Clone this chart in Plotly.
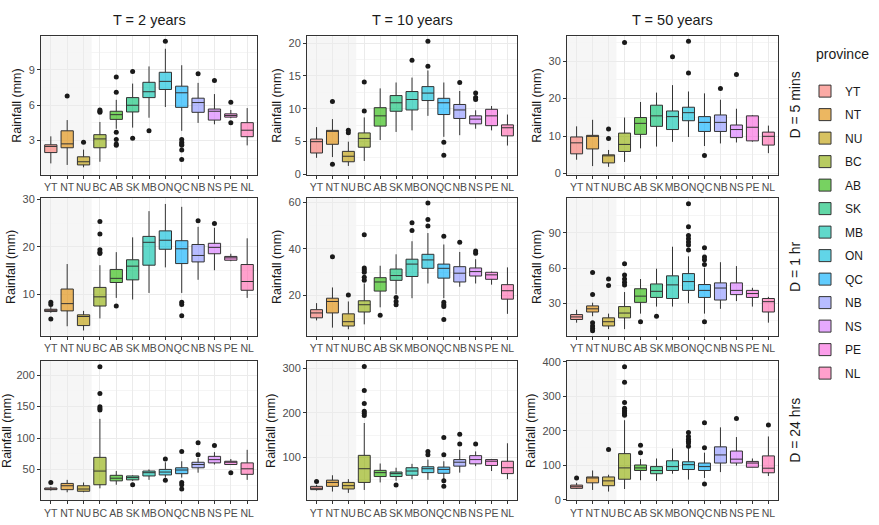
import plotly.graph_objects as go

provinces = ["YT", "NT", "NU", "BC", "AB", "SK", "MB", "ON", "QC", "NB", "NS", "PE", "NL"]
hues = ["#F8766D", "#E18A00", "#BE9C00", "#8CAB00", "#24B700", "#00BE70", "#00C1AB",
        "#00BBDA", "#00ACFC", "#8B93FF", "#D575FE", "#F962DD", "#FF65AC"]
col_titles = ["T = 2 years", "T = 10 years", "T = 50 years"]
row_titles = ["D = 5 mins", "D = 1 hr", "D = 24 hrs"]
territories = ["YT", "NT", "NU"]

# ---- T = 2 years, D = 5 mins
t2_d5_lo = [1.06, 0.93, 0.73, 1.2, 4.0, 4.1, 4.94, 5.85, 3.83, 4.5, 4.38, 4.9, 2.59]
t2_d5_q1 = [1.98, 2.39, 0.93, 2.39, 4.8, 5.43, 6.65, 7.34, 5.82, 5.4, 4.74, 4.99, 3.33]
t2_d5_med = [2.5, 2.72, 1.2, 3.14, 5.2, 6.0, 7.15, 8.03, 7.06, 6.23, 5.49, 5.13, 3.88]
t2_d5_q3 = [2.64, 3.83, 1.62, 3.5, 5.49, 6.65, 7.95, 8.8, 7.62, 6.6, 5.68, 5.27, 4.52]
t2_d5_hi = [3.36, 4.74, 2.23, 4.58, 6.46, 7.84, 9.3, 10.8, 9.4, 7.9, 6.95, 5.6, 5.76]
t2_d5_out = [[], [6.79], [2.86], [5.4, 5.5, 5.6], [8.4, 7.1, 3.7, 3.1, 2.7, 2.6], [8.86, 3.19],
             [3.83], [11.43], [3.1, 2.85, 2.7, 2.6, 2.2, 1.4], [8.67], [8.1], [6.26, 4.52], []]

# ---- T = 10 years, D = 5 mins
t10_d5_lo = [2.48, 2.6, 1.24, 2.0, 5.2, 6.44, 6.68, 8.9, 5.69, 5.94, 6.93, 6.68, 4.36]
t10_d5_q1 = [3.22, 4.55, 1.88, 4.1, 7.33, 9.6, 9.8, 11.24, 9.1, 8.5, 7.67, 7.4, 5.84]
t10_d5_med = [4.95, 6.58, 2.72, 5.45, 8.9, 10.9, 11.4, 12.38, 10.9, 9.8, 8.4, 8.9, 7.08]
t10_d5_q3 = [5.35, 6.68, 3.47, 6.29, 10.15, 12.0, 12.62, 13.37, 11.58, 10.64, 8.9, 9.9, 7.52]
t10_d5_hi = [7.18, 8.4, 4.95, 8.66, 13.1, 14.0, 14.75, 15.84, 14.0, 12.7, 9.75, 10.4, 9.1]
t10_d5_out = [[], [11.1, 1.5], [6.7, 6.3], [14.06, 9.65], [], [], [17.4], [20.3, 16.5],
              [4.85, 2.87], [14.0], [12.4, 11.7, 11.4], [], []]

# ---- T = 50 years, D = 5 mins
t50_d5_lo = [3.7, 2.0, 1.8, 3.1, 6.74, 7.2, 8.47, 9.77, 7.35, 8.04, 8.3, 8.5, 5.45]
t50_d5_q1 = [5.27, 6.57, 2.85, 5.9, 10.46, 12.6, 11.75, 14.1, 11.24, 11.24, 9.6, 8.73, 7.6]
t50_d5_med = [8.2, 9.94, 4.84, 7.78, 13.4, 15.4, 15.2, 16.25, 13.66, 13.66, 11.75, 12.36, 9.94]
t50_d5_q3 = [9.77, 10.2, 5.0, 10.8, 14.95, 18.24, 16.7, 17.7, 15.2, 15.64, 12.96, 15.4, 11.06]
t50_d5_hi = [12.6, 14.35, 6.3, 14.95, 19.1, 21.6, 23.6, 21.9, 21.4, 19.7, 17.3, 15.6, 12.8]
t50_d5_out = [[], [], [11.9, 9.33], [35.0], [], [], [31.2], [35.3, 26.8], [4.84], [22.7],
              [26.4], [], []]

# ---- T = 2 years, D = 1 hr
t2_d60_lo = [6.2, 3.36, 2.47, 5.0, 9.3, 8.97, 10.34, 15.7, 10.34, 13.1, 15.1, 17.0, 9.3]
t2_d60_q1 = [6.44, 6.58, 3.5, 7.6, 12.53, 13.08, 16.16, 19.5, 16.5, 16.85, 18.56, 17.2, 10.9]
t2_d60_med = [6.7, 8.1, 5.4, 9.52, 13.4, 15.96, 20.96, 21.4, 19.6, 18.2, 19.9, 17.7, 12.74]
t2_d60_q3 = [6.92, 11.16, 5.75, 11.5, 15.27, 17.3, 22.2, 23.36, 21.3, 20.5, 20.75, 18.0, 16.3]
t2_d60_hi = [7.4, 16.4, 6.58, 16.16, 18.9, 22.0, 27.5, 29.0, 28.4, 24.2, 24.0, 18.56, 21.8]
t2_d60_out = [[8.4, 7.9, 4.86], [], [], [25.3, 22.7, 19.4, 18.9, 18.6], [7.6], [], [], [],
              [8.4, 7.9, 5.55], [25.5], [24.9], [], []]

# ---- T = 10 years, D = 1 hr
t10_d60_lo = [9.4, 6.3, 5.6, 7.7, 15.0, 20.6, 18.9, 25.2, 18.9, 23.8, 25.2, 24.7, 12.2]
t10_d60_q1 = [10.5, 12.6, 7.0, 13.0, 21.95, 26.55, 28.2, 31.7, 27.5, 25.85, 28.4, 27.0, 18.5]
t10_d60_med = [12.6, 17.5, 8.85, 16.1, 25.85, 28.6, 33.5, 35.3, 31.7, 29.6, 30.3, 28.9, 22.1]
t10_d60_q3 = [14.0, 18.9, 12.2, 17.8, 27.7, 31.4, 35.6, 37.7, 33.5, 32.4, 31.85, 30.0, 24.7]
t10_d60_hi = [16.8, 23.5, 17.5, 25.2, 32.8, 37.7, 43.3, 46.8, 41.9, 38.7, 35.6, 30.3, 32.1]
t10_d60_out = [[], [36.7], [20.3], [46.1, 31.8, 31.0, 30.0, 27.9, 26.6], [11.6],
               [19.2, 17.5, 16.1], [51.2, 47.9], [59.7, 52.6, 49.8],
               [45.4, 17.2, 16.1, 15.4, 9.8], [42.9], [39.1, 38.1], [], []]

# ---- T = 50 years, D = 1 hr
t50_d60_lo = [13.5, 19.0, 8.0, 8.0, 21.2, 27.2, 27.2, 30.0, 21.2, 25.3, 31.9, 27.2, 13.5]
t50_d60_q1 = [16.2, 22.6, 10.7, 17.6, 30.8, 35.0, 34.1, 41.0, 35.0, 32.8, 37.4, 35.0, 22.6]
t50_d60_med = [18.4, 25.3, 14.3, 21.7, 36.1, 40.2, 45.7, 48.5, 41.0, 43.0, 41.0, 38.3, 31.4]
t50_d60_q3 = [20.4, 27.8, 17.6, 27.2, 42.4, 46.5, 53.4, 55.3, 46.0, 47.4, 47.4, 41.0, 34.1]
t50_d60_hi = [24.5, 30.5, 21.2, 39.6, 50.7, 59.5, 78.2, 70.0, 60.3, 65.0, 61.7, 43.2, 35.5]
t50_d60_out = [[], [56.2, 37.4, 13.5, 10.7, 8.5, 6.6], [50.7, 45.2], [63.6, 54.2, 50.7, 47.9, 45.7],
               [14.3], [19.0], [], [114.8, 95.3, 87.8, 85.1, 82.3, 79.6, 75.5],
               [77.4, 69.4, 67.2, 63.1, 14.3], [], [], [], []]

# ---- T = 2 years, D = 24 hrs
t2_d1440_lo = [16.2, 13.6, 13.6, 19.9, 25.6, 31.8, 33.4, 37.0, 37.0, 44.8, 57.8, 57.8, 33.4]
t2_d1440_q1 = [17.8, 17.8, 15.2, 25.6, 31.8, 33.4, 39.6, 41.2, 43.2, 52.6, 60.4, 57.8, 42.2]
t2_d1440_med = [18.8, 24.0, 18.8, 47.4, 36.0, 37.0, 44.8, 45.8, 49.0, 57.8, 65.6, 61.4, 51.0]
t2_d1440_q3 = [20.4, 27.7, 24.0, 69.2, 40.6, 39.6, 47.4, 50.0, 52.6, 61.4, 70.8, 63.0, 60.4]
t2_d1440_hi = [22.5, 33.4, 29.2, 130.5, 47.4, 40.6, 50.0, 61.4, 63.0, 68.2, 77.5, 66.6, 81.2]
t2_d1440_out = [[29.2], [], [], [213.6, 171.0, 149.7, 147.1, 144.5], [], [25.6], [], [66.6, 32.9],
                [78.6, 29.2, 25.6, 18.8], [92.6, 73.4], [88.0], [44.8], []]

# ---- T = 10 years, D = 24 hrs
t10_d1440_lo = [25.3, 23.1, 20.1, 26.7, 43.6, 47.3, 50.9, 49.5, 50.9, 65.6, 80.2, 69.2, 50.9]
t10_d1440_q1 = [27.5, 34.8, 28.9, 43.6, 56.8, 56.8, 59.7, 65.6, 64.1, 80.2, 85.3, 81.7, 63.4]
t10_d1440_med = [30.4, 43.6, 36.3, 74.4, 65.6, 63.4, 69.2, 74.4, 72.9, 89.0, 94.9, 91.2, 76.6]
t10_d1440_q3 = [34.8, 48.7, 43.6, 104.4, 70.7, 67.0, 76.6, 78.8, 78.0, 94.9, 103.7, 94.9, 91.2]
t10_d1440_hi = [38.5, 59.7, 50.9, 177.0, 86.1, 76.6, 85.3, 94.9, 91.2, 116.8, 113.2, 96.3, 131.5]
t10_d1440_out = [[45.8], [], [], [303.7, 250.0, 220.9, 203.3, 198.9, 193.8], [], [37.7], [],
                 [113.0, 106.0], [144.7, 105.9, 47.3, 34.8], [152.0, 130.0], [130.0], [], []]

# ---- T = 50 years, D = 24 hrs
t50_d1440_lo = [31.0, 28.2, 23.5, 31.0, 56.4, 54.6, 75.3, 58.3, 63.0, 80.0, 98.8, 94.1, 68.7]
t50_d1440_q1 = [32.9, 48.9, 40.5, 59.3, 84.7, 75.3, 84.7, 87.5, 84.7, 106.3, 106.3, 94.1, 78.1]
t50_d1440_med = [37.6, 63.0, 54.6, 92.2, 92.2, 84.7, 96.0, 101.6, 96.0, 129.8, 117.6, 106.3, 91.3]
t50_d1440_q3 = [42.3, 65.9, 65.9, 133.6, 100.7, 96.0, 112.9, 110.0, 106.3, 153.3, 141.1, 111.0, 127.0]
t50_d1440_hi = [48.9, 84.7, 72.4, 230.5, 117.6, 119.5, 148.6, 150.5, 136.4, 209.8, 181.6, 119.5, 183.4]
t50_d1440_out = [[63.0], [], [145.8], [385.7, 340.5, 282.2, 265.3, 258.7, 254.0, 249.3, 244.6],
                 [158.0, 136.4], [], [], [194.7, 183.4, 175.0, 169.3, 164.6, 155.2],
                 [223.0, 150.5, 45.2], [], [235.2], [], [216.4]]

panels = [
    (t2_d5_lo, t2_d5_q1, t2_d5_med, t2_d5_q3, t2_d5_hi, t2_d5_out),
    (t10_d5_lo, t10_d5_q1, t10_d5_med, t10_d5_q3, t10_d5_hi, t10_d5_out),
    (t50_d5_lo, t50_d5_q1, t50_d5_med, t50_d5_q3, t50_d5_hi, t50_d5_out),
    (t2_d60_lo, t2_d60_q1, t2_d60_med, t2_d60_q3, t2_d60_hi, t2_d60_out),
    (t10_d60_lo, t10_d60_q1, t10_d60_med, t10_d60_q3, t10_d60_hi, t10_d60_out),
    (t50_d60_lo, t50_d60_q1, t50_d60_med, t50_d60_q3, t50_d60_hi, t50_d60_out),
    (t2_d1440_lo, t2_d1440_q1, t2_d1440_med, t2_d1440_q3, t2_d1440_hi, t2_d1440_out),
    (t10_d1440_lo, t10_d1440_q1, t10_d1440_med, t10_d1440_q3, t10_d1440_hi, t10_d1440_out),
    (t50_d1440_lo, t50_d1440_q1, t50_d1440_med, t50_d1440_q3, t50_d1440_hi, t50_d1440_out),
]

y_ticks = [[3, 6, 9], [0, 5, 10, 15, 20], [0, 10, 20, 30],
           [10, 20, 30], [20, 40, 60], [30, 60, 90],
           [50, 100, 150, 200], [100, 200, 300], [0, 100, 200, 300, 400]]
y_ranges = [[0.1, 11.85], [-0.1, 21.05], [-0.3, 36.6],
            [1.4, 30.2], [2.9, 61.7], [2.5, 119.5],
            [0.7, 222.5], [3.3, 316.0], [-2.0, 402.0]]

W, H = 879, 525
col_px = [(41, 257), (307, 517), (567, 778)]
row_px = [(32, 173), (197, 337), (363, 505)]


def rgba(hx, a):
    hx = hx.lstrip("#")
    r, g, b = int(hx[0:2], 16), int(hx[2:4], 16), int(hx[4:6], 16)
    return f"rgba({r},{g},{b},{a})"


FONT = "Liberation Sans, Arial, sans-serif"
fig = go.Figure()
layout = {}
shapes = []
annotations = []

for k, (lo, q1, med, q3, hi, outs) in enumerate(panels):
    r, c = divmod(k, 3)
    s = "" if k == 0 else str(k + 1)
    xa, ya = "x" + s, "y" + s
    for i, p in enumerate(provinces):
        fig.add_trace(go.Box(
            x=[p], lowerfence=[lo[i]], q1=[q1[i]], median=[med[i]], q3=[q3[i]],
            upperfence=[hi[i]], name=p, legendgroup=p, showlegend=(k == 0),
            fillcolor=rgba(hues[i], 0.62), line=dict(color="#333333", width=1),
            whiskerwidth=0, width=0.75, boxpoints=False, xaxis=xa, yaxis=ya,
            hoverinfo="skip"))
    ox, oy = [], []
    for i, p in enumerate(provinces):
        for v in outs[i]:
            ox.append(p)
            oy.append(v)
    fig.add_trace(go.Scatter(x=ox, y=oy, mode="markers", showlegend=False,
                             marker=dict(color="#1a1a1a", size=5),
                             xaxis=xa, yaxis=ya, hoverinfo="skip"))

    x0, x1 = col_px[c]
    y0, y1 = row_px[r]
    ticks = y_ticks[k]
    step = ticks[1] - ticks[0]
    minor_vals = [t - step / 2 for t in ticks] + [ticks[-1] + step / 2]
    layout["xaxis" + s] = dict(
        domain=[x0 / W, x1 / W], anchor=ya, type="category",
        categoryorder="array", categoryarray=provinces, range=[-0.6, 12.6],
        showgrid=True, gridcolor="#EBEBEB", gridwidth=1, zeroline=False,
        ticks="outside", ticklen=3, tickcolor="#333333", showline=True,
        linecolor="#333333", linewidth=1, mirror=True, tickangle=0,
        tickfont=dict(size=10.5, color="#4D4D4D", family=FONT))
    layout["yaxis" + s] = dict(
        domain=[1 - y1 / H, 1 - y0 / H], anchor=xa, range=y_ranges[k],
        tickvals=ticks, showgrid=True, gridcolor="#EBEBEB", gridwidth=1,
        zeroline=False, ticks="outside", ticklen=3, tickcolor="#333333",
        showline=True, linecolor="#333333", linewidth=1, mirror=True,
        minor=dict(tickvals=minor_vals, showgrid=True, gridcolor="#F5F5F5"),
        tickfont=dict(size=11, color="#4D4D4D", family=FONT),
        title=dict(text="Rainfall (mm)", font=dict(size=12.5, color="#1a1a1a", family=FONT),
                   standoff=4))
    shapes.append(dict(type="rect", xref=xa, yref=ya + " domain",
                       x0=-0.6, x1=provinces.index(territories[-1]) + 0.5, y0=0, y1=1,
                       fillcolor="rgba(0,0,0,0.035)", line=dict(width=0), layer="below"))

for c, t in enumerate(col_titles):
    x0, x1 = col_px[c]
    annotations.append(dict(text=t, x=(x0 + x1) / 2 / W, y=1 - 15 / H, xref="paper", yref="paper",
                            showarrow=False, font=dict(size=14.5, color="#1a1a1a", family=FONT),
                            xanchor="center", yanchor="middle"))
for r, t in enumerate(row_titles):
    y0, y1 = row_px[r]
    annotations.append(dict(text=t, x=795 / W, y=1 - (y0 + y1) / 2 / H, xref="paper", yref="paper",
                            showarrow=False, textangle=-90,
                            font=dict(size=14, color="#1a1a1a", family=FONT),
                            xanchor="center", yanchor="middle"))
annotations.append(dict(text="province", x=814 / W, y=1 - 50 / H, xref="paper", yref="paper",
                        showarrow=False, font=dict(size=14, color="#1a1a1a", family=FONT),
                        xanchor="left", yanchor="middle"))

fig.update_layout(
    width=W, height=H, margin=dict(l=0, r=0, t=0, b=0),
    paper_bgcolor="white", plot_bgcolor="white", boxmode="overlay",
    font=dict(family=FONT, color="#1a1a1a"),
    showlegend=True,
    legend=dict(x=805 / W, y=1 - 73 / H, xanchor="left", yanchor="top",
                font=dict(size=12, color="#1a1a1a"), tracegroupgap=4.5,
                bgcolor="rgba(0,0,0,0)"),
    shapes=shapes, annotations=annotations, **layout)

fig.write_html("out.html", config={"displayModeBar": False},
               post_script="document.body.style.margin='0';")
